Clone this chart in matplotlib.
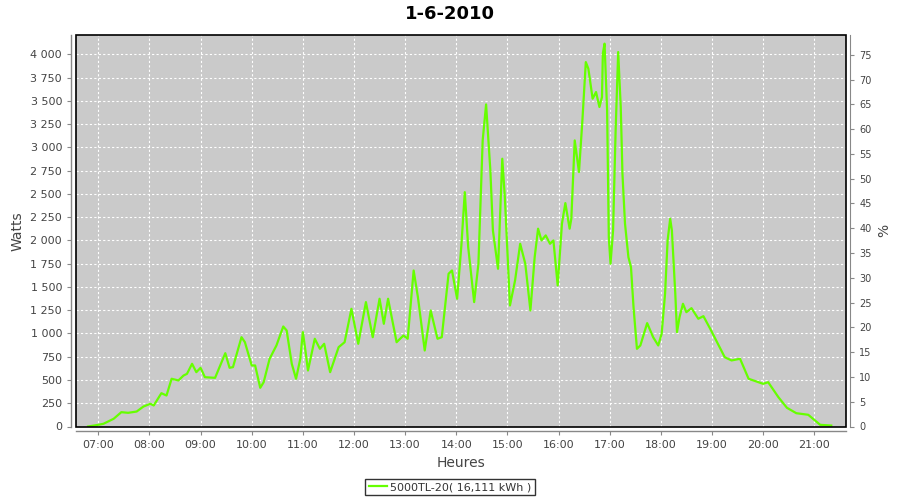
import matplotlib
matplotlib.use("Agg")
import matplotlib.pyplot as plt
from matplotlib.ticker import FixedLocator, FuncFormatter
from matplotlib.patches import Rectangle

# readings of the day (time, watts)
times = ["06:48", "07:00", "07:06", "07:18", "07:27", "07:35", "07:45", "07:53",
         "08:01", "08:05", "08:14", "08:20", "08:26", "08:34", "08:40", "08:44",
         "08:50", "08:55", "09:00", "09:05", "09:17", "09:29", "09:34", "09:38",
         "09:48", "09:52", "10:00", "10:04", "10:10", "10:14", "10:21", "10:29",
         "10:37", "10:41", "10:47", "10:52", "10:57", "11:00", "11:03", "11:06",
         "11:14", "11:20", "11:25", "11:32", "11:42", "11:49", "11:57", "12:05",
         "12:14", "12:22", "12:30", "12:35", "12:40", "12:50", "12:58", "13:03",
         "13:10", "13:15", "13:23", "13:30", "13:38", "13:43", "13:51", "13:55",
         "14:01", "14:06", "14:10", "14:14", "14:21", "14:26", "14:31", "14:35",
         "14:40", "14:43", "14:49", "14:51", "14:54", "14:57", "15:03", "15:09",
         "15:15", "15:21", "15:27", "15:32", "15:36", "15:40", "15:45", "15:50",
         "15:54", "15:59", "16:04", "16:08", "16:13", "16:15", "16:19", "16:24",
         "16:28", "16:32", "16:35", "16:40", "16:44", "16:48", "16:51", "16:52",
         "16:54", "16:57", "16:59", "17:01", "17:04", "17:07", "17:10", "17:13",
         "17:15", "17:18", "17:22", "17:25", "17:28", "17:32", "17:36", "17:44",
         "17:51", "17:57", "18:01", "18:05", "18:08", "18:11", "18:13", "18:17",
         "18:19", "18:22", "18:26", "18:30", "18:36", "18:44", "18:50", "18:58",
         "19:06", "19:15", "19:23", "19:33", "19:43", "19:52", "20:00", "20:06",
         "20:18", "20:28", "20:39", "20:53", "21:01", "21:07", "21:20"]
watts = [0, 18, 29, 83, 154, 147, 161, 215,
         244, 226, 358, 333, 513, 495, 548, 566,
         674, 584, 631, 530, 523, 788, 631, 638,
         960, 906, 656, 656, 416, 476, 728, 871,
         1075, 1032, 674, 513, 728, 1014, 817, 602,
         943, 835, 889, 584, 853, 906, 1265, 889,
         1337, 960, 1373, 1104, 1373, 906, 978, 943,
         1677, 1391, 817, 1247, 943, 960, 1642, 1677,
         1373, 1946, 2519, 1928, 1337, 1749, 3075, 3462,
         2753, 2108, 1695, 2180, 2878, 2466, 1301, 1570,
         1964, 1749, 1247, 1820, 2126, 2000, 2054, 1964,
         2000, 1516, 2180, 2401, 2126, 2233, 3075, 2735,
         3290, 3917, 3846, 3523, 3595, 3434, 3541, 4008,
         4115, 3398, 2035, 1749, 2108, 3183, 4025, 3434,
         2717, 2180, 1820, 1713, 1283, 835, 871, 1111,
         960, 871, 997, 1427, 2000, 2233, 2108, 1427,
         1014, 1176, 1319, 1229, 1272, 1158, 1186, 1050,
         906, 745, 710, 728, 513, 484, 459, 476,
         315, 201, 143, 126, 64, 18, 10]

hours = [7, 8, 9, 10, 11, 12, 13, 14, 15, 16, 17, 18, 19, 20, 21]
watt_ticks = list(range(0, 4001, 250))
pct_ticks = list(range(0, 76, 5))

title = "1-6-2010"
label = "5000TL-20( 16,111 kWh )"


def to_hours(s):
    h, m = s.split(":")
    return int(h) + int(m) / 60.0


x = [to_hours(t) for t in times]

fig = plt.figure(figsize=(9, 5), dpi=100)
ax = fig.add_axes([0.0839, 0.147, 0.856, 0.783])
ax.set_facecolor("#cacaca")

ax.plot(x, watts, color="#66ff00", lw=1.6, label=label, zorder=3)

ax.set_xlim(6.554, 21.62)
ax.set_ylim(0, 4208)

ax.xaxis.set_major_locator(FixedLocator(hours))
ax.xaxis.set_major_formatter(FuncFormatter(lambda v, p: "%02d:00" % int(round(v))))
ax.yaxis.set_major_locator(FixedLocator(watt_ticks))
ax.yaxis.set_major_formatter(FuncFormatter(lambda v, p: "{:,}".format(int(v)).replace(",", " ")))

ax.grid(True, color="white", linestyle=(0, (2, 2)), lw=0.8, zorder=1)
ax.set_axisbelow(True)

for s in ["top", "right"]:
    ax.spines[s].set_visible(False)
for s in ["left", "bottom"]:
    ax.spines[s].set_position(("outward", 3.2))
    ax.spines[s].set_color("#888888")
    ax.spines[s].set_linewidth(1.0)
ax.tick_params(colors="#888888", labelcolor="#444444", labelsize=8, length=3, width=0.8)

# plot border
ax.add_patch(Rectangle((0, 0), 1, 1, transform=ax.transAxes, fill=False,
                       edgecolor="black", lw=1.2, zorder=5, clip_on=False))

# right axis in %
ax2 = ax.twinx()
ax2.set_ylim(0, 79.0)
ax2.yaxis.set_major_locator(FixedLocator(pct_ticks))
for s in ["top", "left", "bottom"]:
    ax2.spines[s].set_visible(False)
ax2.spines["right"].set_position(("outward", 3.2))
ax2.spines["right"].set_color("#888888")
ax2.tick_params(colors="#888888", labelcolor="#444444", labelsize=7, length=3, width=0.8)

ax.set_xlabel("Heures", fontsize=10, color="#444444", labelpad=4)
ax.set_ylabel("Watts", fontsize=10, color="#444444", labelpad=4)
ax2.set_ylabel("%", fontsize=10, color="#444444", labelpad=4)

fig.text(0.5, 1 - 14 / 500, title, ha="center", va="center",
         fontsize=13, fontweight="bold")

leg = fig.legend(loc="center", bbox_to_anchor=(0.5, 1 - 487 / 500), fontsize=8,
                 frameon=True, fancybox=False, handlelength=1.6, borderpad=0.3,
                 handletextpad=0.3)
leg.get_frame().set_edgecolor("black")
leg.get_frame().set_linewidth(1.0)
for t in leg.get_texts():
    t.set_color("#333333")

fig.savefig("out.png", dpi=100)
